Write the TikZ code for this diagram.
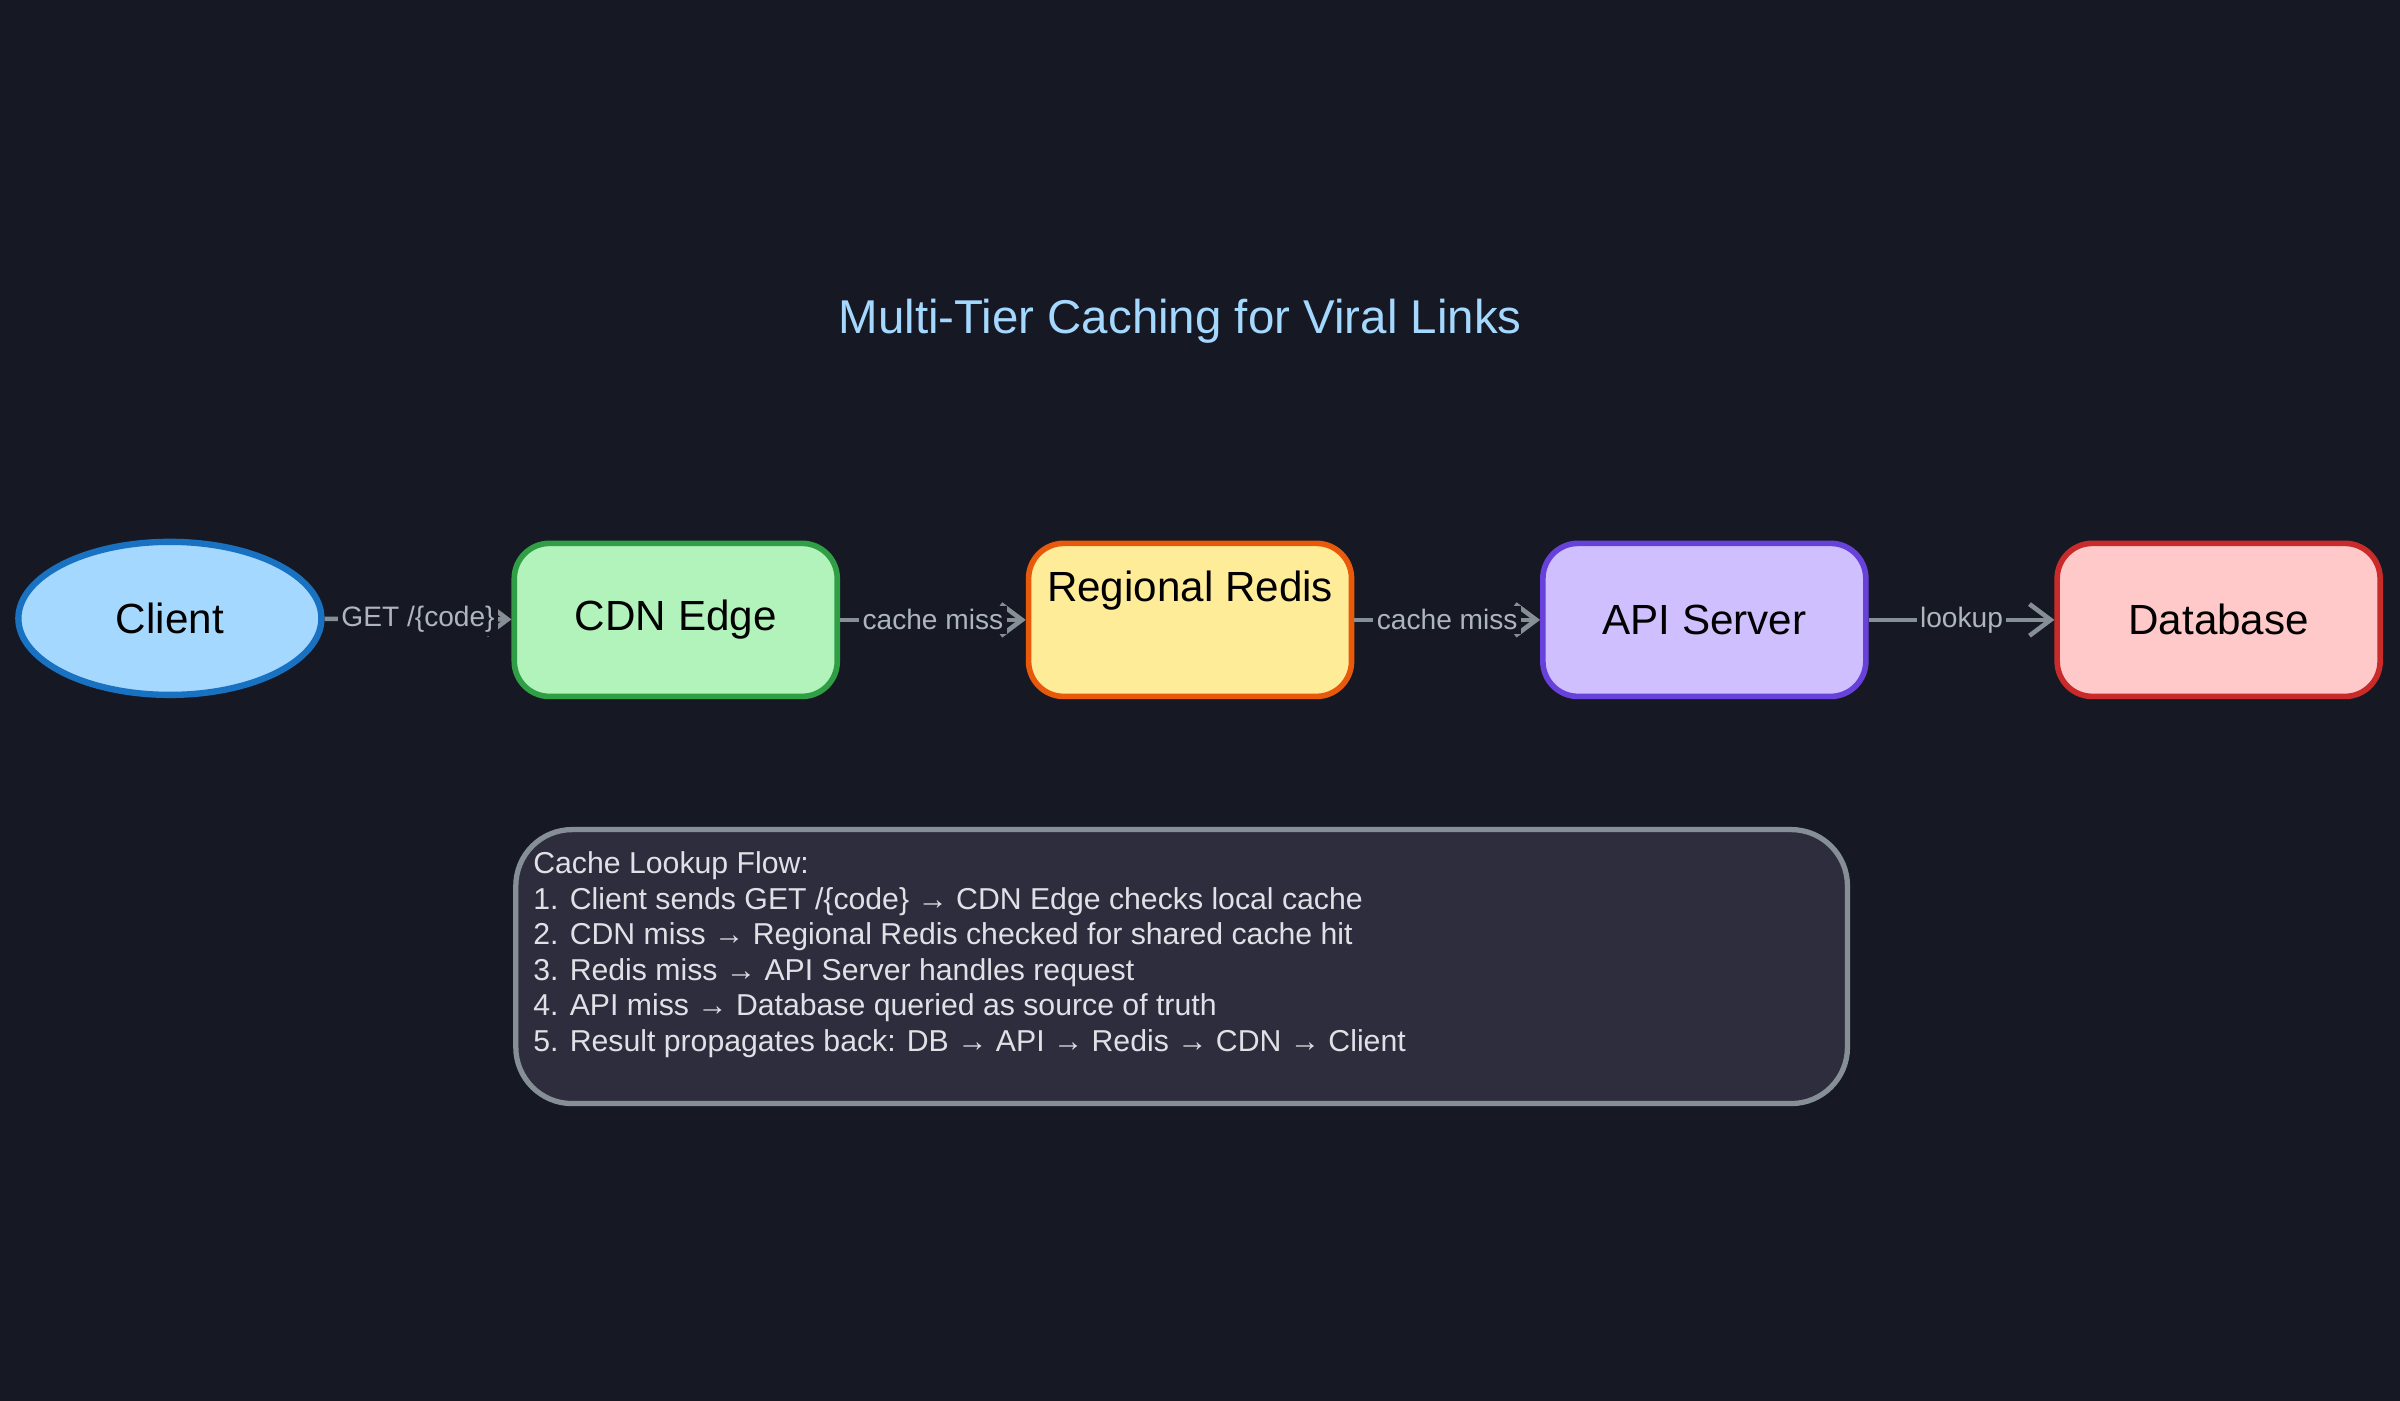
\documentclass[tikz,border=0pt]{standalone}
\usepackage{fontspec}
\setmainfont{Liberation Sans}
\usetikzlibrary{shapes.geometric,arrows.meta}
\definecolor{bg}{HTML}{161923}
\definecolor{ttl}{HTML}{A5D8FF}
\definecolor{edge}{HTML}{868E96}
\definecolor{lbl}{HTML}{ADB5BD}
\definecolor{notefill}{HTML}{2E2D3D}
\definecolor{notetext}{HTML}{DEE2E6}
\tikzset{
  box/.style={draw, line width=1.6pt, rounded corners=10pt, minimum width=211*0.01531cm, minimum height=100*0.01531cm, font=\fontsize{12}{14}\selectfont, text=black, inner sep=0pt},
  conn/.style={draw=edge, line width=1.3pt, -{Straight Barb[length=6pt,width=9pt]}},
  elab/.style={fill=bg, text=lbl, font=\fontsize{8}{9}\selectfont, inner sep=1pt}
}
\begin{document}
\begin{tikzpicture}[x=0.01531cm,y=-0.01531cm]
\fill[bg] (0,0) rectangle (1568,915);
\useasboundingbox (0,0) rectangle (1568,915);
\node[text=ttl, font=\fontsize{13.5}{16}\selectfont] (title) at (771,210) {Multi-Tier Caching for Viral Links};
\node[ellipse, draw={rgb,255:red,25;green,113;blue,194}, fill={rgb,255:red,165;green,216;blue,255}, line width=1.8pt, minimum width=198*0.01531cm, minimum height=100*0.01531cm, font=\fontsize{12}{14}\selectfont, inner sep=0pt] (client) at (111,404) {Client};
\node[box, draw={rgb,255:red,47;green,158;blue,68}, fill={rgb,255:red,178;green,242;blue,187}] (cdn) at (441.5,405) {CDN Edge};
\node[box, draw={rgb,255:red,232;green,89;blue,12}, fill={rgb,255:red,255;green,236;blue,153}] (redis) at (777.5,405) {};
\node[text=black, font=\fontsize{12}{14}\selectfont] (redislbl) at (777.5,386) {Regional Redis};
\node[box, draw={rgb,255:red,103;green,65;blue,217}, fill={rgb,255:red,208;green,191;blue,255}] (api) at (1113.5,405) {API Server};
\node[box, draw={rgb,255:red,201;green,42;blue,42}, fill={rgb,255:red,255;green,201;blue,201}] (db) at (1449.5,405) {Database};
\draw[conn] (client) -- node[elab] {GET /\{code\}} (cdn);
\draw[conn] (cdn) -- node[elab] {cache miss} (redis);
\draw[conn] (redis) -- node[elab] {cache miss} (api);
\draw[conn] (api) -- node[elab] {lookup} (db);
\node[draw=edge, fill=notefill, line width=1.5pt, rounded corners=16pt, minimum width=870*0.01531cm, minimum height=179*0.01531cm] (note) at (772,631.5) {};
\node[anchor=north west, text=notetext, align=left, font=\fontsize{8.6}{10.1}\selectfont, inner sep=0pt] (notetxt) at (348,556) {Cache Lookup Flow:\\
1. Client sends GET /\{code\} → CDN Edge checks local cache\\
2. CDN miss → Regional Redis checked for shared cache hit\\
3. Redis miss → API Server handles request\\
4. API miss → Database queried as source of truth\\
5. Result propagates back: DB → API → Redis → CDN → Client};
\end{tikzpicture}
\end{document}
